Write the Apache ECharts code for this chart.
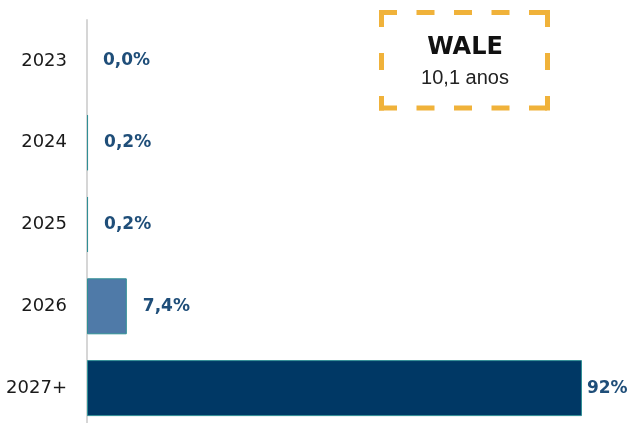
<!DOCTYPE html>
<html><head><meta charset="utf-8">
<script src="https://cdn.jsdelivr.net/npm/echarts@6/dist/echarts.min.js"></script>
<style>html,body{margin:0;padding:0;background:#fff}#c{width:630px;height:423px}</style>
</head><body><div id="c"></div>
<script>
const categories = ['2023', '2024', '2025', '2026', '2027+'];
const values = [0.0, 0.2, 0.2, 7.4, 92];
const labels = ['0,0%', '0,2%', '0,2%', '7,4%', '92%'];
const barColors = ['#4f7aa8', '#5a9a9f', '#5a9a9f', '#4f7aa8', '#003865'];
const labelDistances = [16, 16, 16, 16, 5];
const waleTitle = 'WALE';
const waleValue = '10,1 anos';

const box = {x1: 381.5, y1: 12.5, x2: 547.5, y2: 108};
const dashStyle = {stroke: '#f0b23a', lineWidth: 5};
function edge(x1, y1, x2, y2, dash) {
  return {type: 'line', shape: {x1, y1, x2, y2}, style: Object.assign({lineDash: dash}, dashStyle)};
}
const h = 2.5;
const chart = echarts.init(document.getElementById('c'), null, {renderer: 'canvas'});
chart.setOption({
  animation: false,
  grid: {left: 87, right: 5, top: 20, height: 409, outerBoundsMode: 'none', containLabel: false},
  xAxis: {type: 'value', min: 0, max: 100, show: false},
  yAxis: {
    type: 'category', data: categories, inverse: true,
    axisLine: {show: true, lineStyle: {color: '#d6d6d6', width: 2}},
    axisTick: {show: false},
    axisLabel: {color: '#1a1a1a', fontSize: 18, fontFamily: 'DejaVu Sans', margin: 20}
  },
  series: [{
    type: 'bar', barWidth: 56,
    data: values.map((v, i) => ({
      value: v,
      itemStyle: {color: barColors[i], borderColor: '#2f8f95', borderWidth: v > 0 ? 1 : 0},
      label: {distance: labelDistances[i], formatter: labels[i]}
    })),
    label: {show: true, position: 'right', color: '#1f4e79', fontWeight: 'bold', fontSize: 17, fontFamily: 'DejaVu Sans'}
  }],
  graphic: [
    edge(box.x1 - h, box.y1, box.x2 + h, box.y1, [18, 19.5]),
    edge(box.x1 - h, box.y2, box.x2 + h, box.y2, [18, 19.5]),
    edge(box.x1, box.y1 - h, box.x1, box.y2 + h, [17, 26]),
    edge(box.x2, box.y1 - h, box.x2, box.y2 + h, [17, 26]),
    {type: 'text', x: 465, y: 48, style: {text: waleTitle, font: 'bold 24px "DejaVu Sans"', fill: '#111', align: 'center', verticalAlign: 'middle'}},
    {type: 'text', x: 465, y: 78, style: {text: waleValue, font: '20px "Liberation Sans"', fill: '#222', align: 'center', verticalAlign: 'middle'}}
  ]
});
</script></body></html>
